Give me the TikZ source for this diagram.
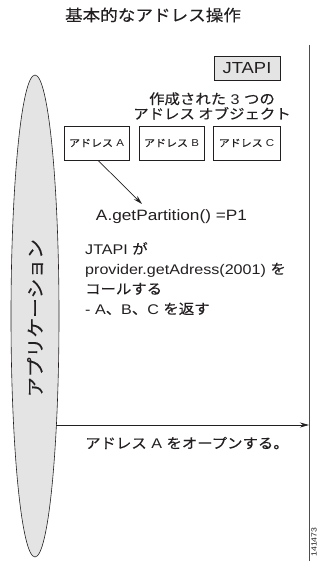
\documentclass[tikz,border=0pt]{standalone}
\usepackage{fontspec}
\setmainfont[FakeStretch=1.15]{Liberation Sans}
\newfontfamily\jp[FakeStretch=1.1,FakeBold=0.3]{Noto Sans CJK JP}
\usetikzlibrary{arrows.meta,shapes.geometric}
\definecolor{ink}{HTML}{231F20}
\definecolor{shade}{HTML}{E4E4E4}
\newcommand{\fs}[2]{\fontsize{#1}{#2}\selectfont}
\begin{document}
\begin{tikzpicture}[x=1pt,y=-1pt,
  every node/.style={text=ink, inner sep=0pt},
  addrbox/.style={draw=ink, line width=0.7pt, minimum width=65pt, minimum height=34pt, font=\fs{10}{12}},
  tip/.style={-{Stealth[length=9pt,width=5pt]}, line width=0.7pt, draw=ink}
]
\useasboundingbox (0,0) rectangle (322,561);

% title
\node (title) at (153,15) {\fs{16}{18}\jp 基本的なアドレス操作};

% application ellipse
\node (ell) [ellipse, draw=ink, line width=0.6pt, fill=shade, minimum width=48pt, minimum height=482pt] at (35,316) {};
\node (app) [rotate=90] at (35,318) {\fs{18}{20}\jp アプリケーション};

% JTAPI lifeline
\coordinate (lt) at (309,45);
\coordinate (lb) at (309,561);
\draw[draw=ink!80, line width=0.9pt] (lt) -- (lb);

\node (jtapi) [draw=ink, line width=0.7pt, fill=shade, minimum width=66pt, minimum height=24pt, font=\fs{16}{18}] at (247,68) {JTAPI};

\node (created) [align=center, font=\fs{14}{15}] at (212,106) {{\jp 作成された} 3 {\jp つの}\\{\jp アドレス オブジェクト}};

\node (addrA) [addrbox] at (96.5,143) {{\jp アドレス} A};
\node (addrB) [addrbox] at (171.5,143) {{\jp アドレス} B};
\node (addrC) [addrbox, minimum width=67pt] at (246.5,143) {{\jp アドレス} C};

\coordinate (ptip) at (142,204);
\draw[tip] (addrA.south) ++(1.5,0) -- (ptip);

\node (getp) [font=\fs{15}{17}] at (171.5,217) {A.getPartition() =P1};

\node (call) [anchor=north west, align=left, font=\fs{14}{20}] at (85,242)
  {JTAPI {\jp が}\\provider.getAdress(2001) {\jp を}\\{\jp コールする}\\- A{\jp 、}B{\jp 、}C {\jp を返す}};

\coordinate (os) at (56.4,425);
\draw[tip] (os) -- (os -| lt);

\node (open) [anchor=west, font=\fs{14}{16}] at (85,443) {{\jp アドレス} A {\jp をオープンする。}};

\node (num) [rotate=90, font=\fs{7.5}{9}] at (314,542) {141473};
\end{tikzpicture}
\end{document}
